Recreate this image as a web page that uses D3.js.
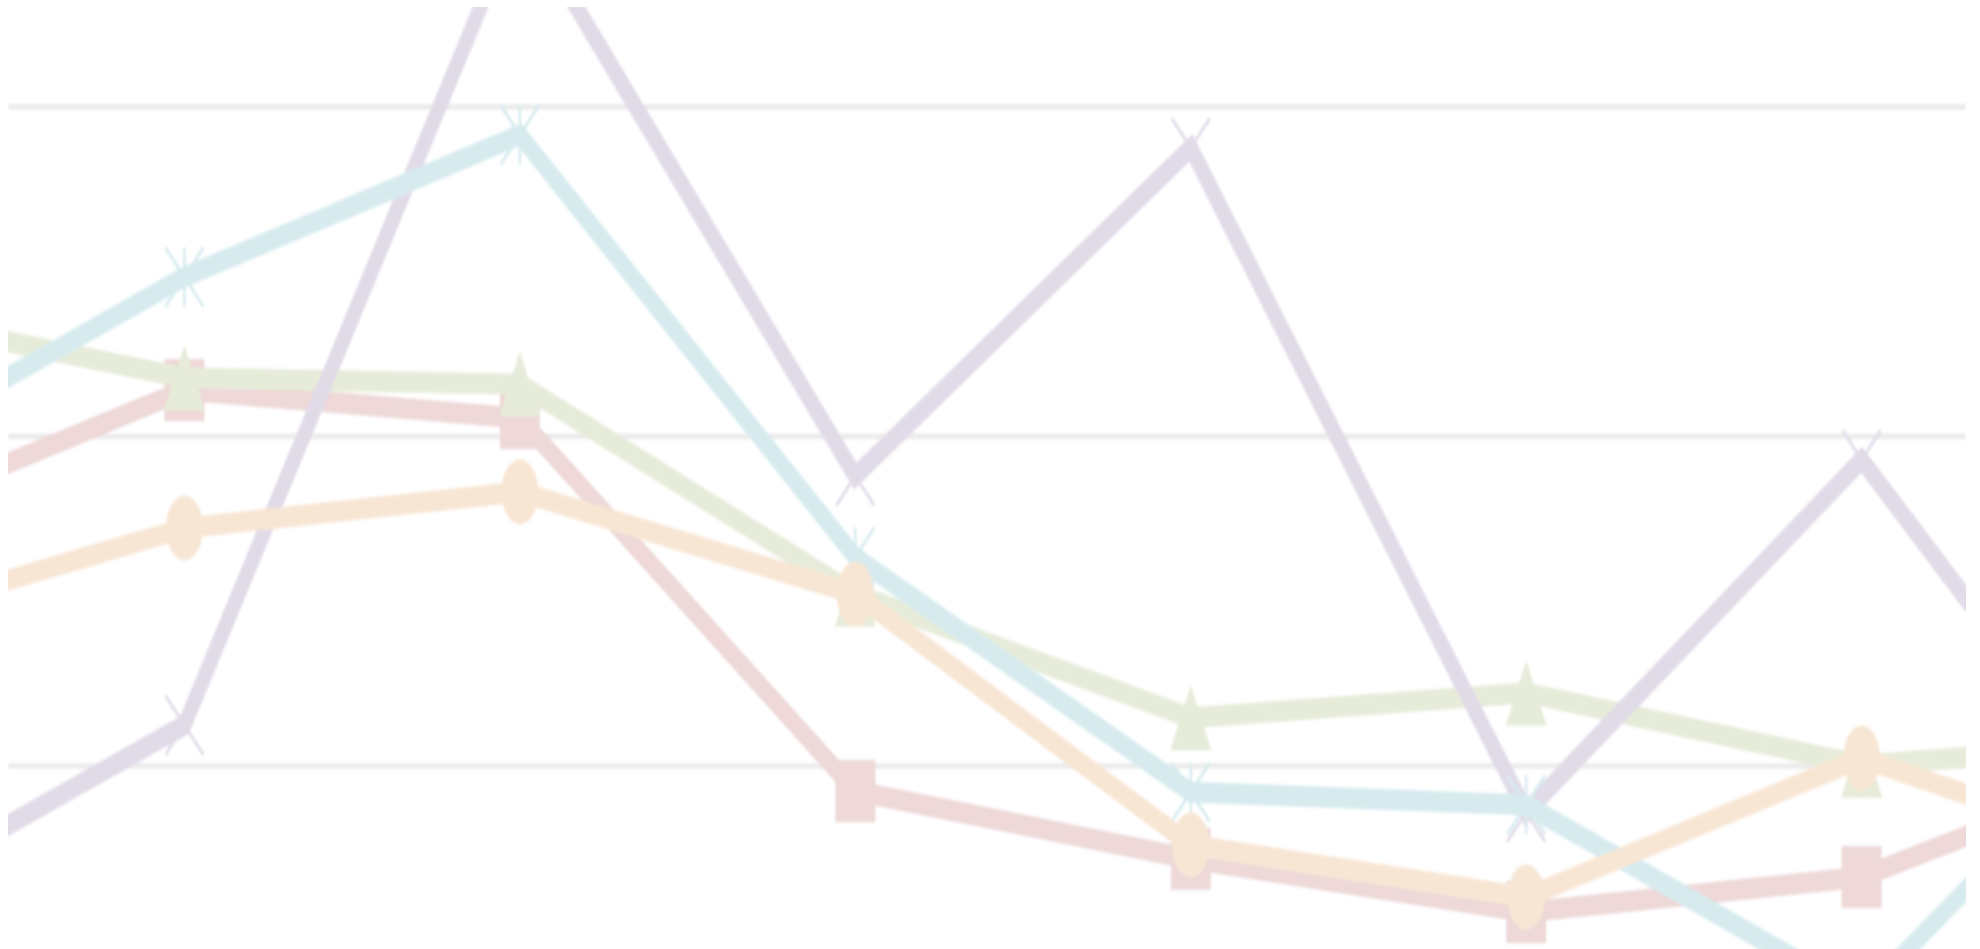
<!DOCTYPE html>
<html>
<head>
<meta charset="utf-8">
<script src="https://cdn.jsdelivr.net/npm/d3@7"></script>
<style>
  html, body { margin: 0; padding: 0; background: #fff; overflow: hidden; }
</style>
</head>
<body>
<div class="chart-container"></div>
<script>
// categories: first and last sit just outside the visible window
var categories = ["C0", "C1", "C2", "C3", "C4", "C5", "C6", "C7"];
var gridValues = [0, 10, 20, 30, 40];

var squareValues   = [17.16, 21.38, 20.53, 9.21, 7.15, 5.54, 6.60, 10.58];
var triangleValues = [23.84, 21.75, 21.56, 15.19, 11.43, 12.19, 10.00, 10.76];
var crossValues    = [5.45, 11.21, 35.89, 18.77, 28.73, 8.57, 19.26, 5.75];
var starValues     = [19.04, 24.81, 29.12, 16.31, 9.18, 8.79, 2.96, 13.43];
var circleValues   = [14.19, 17.19, 18.29, 15.19, 7.57, 5.99, 10.21, 6.69];

var series = [
  { name: "Series 2", marker: "square",   color: "#eed8d8", values: squareValues },
  { name: "Series 3", marker: "triangle", color: "#e6ecd9", values: triangleValues },
  { name: "Series 4", marker: "cross",    color: "#e1dbe8", values: crossValues },
  { name: "Series 5", marker: "star",     color: "#d7ebef", values: starValues },
  { name: "Series 6", marker: "circle",   color: "#f8e6d4", values: circleValues }
];

var width = 1980;
var height = 949;
var stretch = 1.55;   // the picture is pulled taller than wide

var svg = d3.select(".chart-container")
  .append("svg")
  .attr("width", width)
  .attr("height", height);

var defs = svg.append("defs");
defs.append("filter")
  .attr("id", "soft")
  .append("feGaussianBlur")
  .attr("stdDeviation", 0.9);

var plot = svg.append("g")
  .attr("transform", "scale(1," + stretch + ")");

plot.append("clipPath")
  .attr("id", "plot-clip")
  .append("rect")
  .attr("x", 8)
  .attr("y", 7 / stretch)
  .attr("width", 1958)
  .attr("height", (height - 7) / stretch);

var x = d3.scalePoint()
  .domain(categories)
  .range([-151, 2197]);

var y = d3.scaleLinear()
  .domain([10, 30])
  .range([765 / stretch, 106 / stretch]);

var body = plot.append("g").attr("clip-path", "url(#plot-clip)");
var inner = body.append("g").attr("filter", "url(#soft)");

// horizontal gridlines
var grid = inner.append("g")
  .attr("transform", "translate(8,0)")
  .call(d3.axisRight(y).tickValues(gridValues).tickSize(1958).tickFormat(""));
grid.select(".domain").remove();
grid.selectAll("line")
  .attr("stroke", "#ebebeb")
  .attr("stroke-width", 3.5);

var line = d3.line()
  .x(function(d, i) { return x(categories[i]); })
  .y(function(d) { return y(d); });

function markerPath(type) {
  var r = 19;
  if (type === "triangle") {
    return "M0,-21L20.5,21L-20.5,21Z";
  }
  if (type === "cross") {
    return "M" + (-r) + "," + (-r) + "L" + r + "," + r + "M" + r + "," + (-r) + "L" + (-r) + "," + r;
  }
  if (type === "star") {
    return "M" + (-r) + "," + (-r) + "L" + r + "," + r + "M" + r + "," + (-r) + "L" + (-r) + "," + r +
      "M0," + (-r) + "L0," + r;
  }
  if (type === "square") {
    return d3.symbol().type(d3.symbolSquare).size(1600)();
  }
  // slightly tall ellipse
  var rx = 18.5, ry = 21;
  return "M" + (-rx) + ",0A" + rx + "," + ry + " 0 1,0 " + rx + ",0A" + rx + "," + ry + " 0 1,0 " + (-rx) + ",0Z";
}

series.forEach(function(s) {
  var g = inner.append("g").attr("class", "series");

  g.append("path")
    .datum(s.values)
    .attr("fill", "none")
    .attr("stroke", s.color)
    .attr("stroke-width", 13.5)
    .attr("stroke-linejoin", "miter")
    .attr("d", line);

  var open = (s.marker === "cross" || s.marker === "star");

  g.selectAll(".marker")
    .data(s.values)
    .enter()
    .append("path")
    .attr("class", "marker")
    .attr("transform", function(d, i) { return "translate(" + x(categories[i]) + "," + y(d) + ")"; })
    .attr("d", markerPath(s.marker))
    .attr("fill", open ? "none" : s.color)
    .attr("stroke", open ? s.color : "none")
    .attr("stroke-width", open ? 2.5 : 0);
});
</script>
</body>
</html>
